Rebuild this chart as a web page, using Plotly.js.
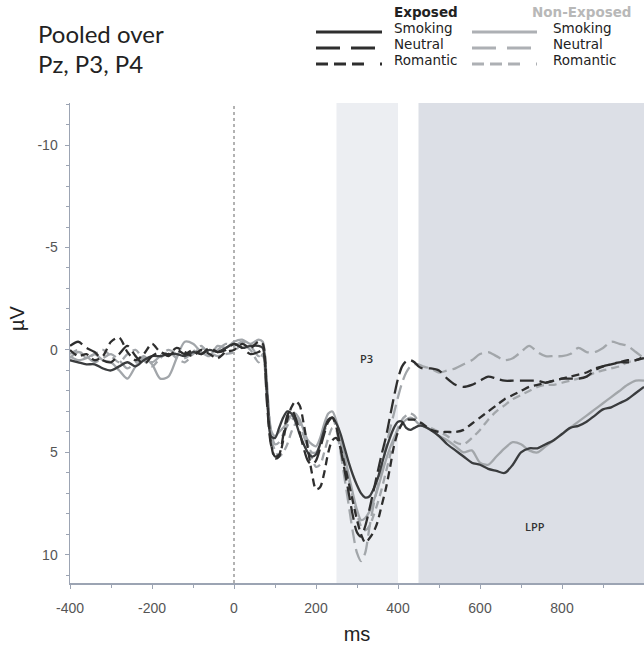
<!DOCTYPE html>
<html><head><meta charset="utf-8">
<script src="https://cdn.plot.ly/plotly-3.0.1.min.js"></script>
<style>html,body{margin:0;padding:0;background:#fff}#chart{width:644px;height:663px}</style>
</head><body><div id="chart"></div>
<script>
// time axis (ms)
var ms = [-400,-380,-360,-340,-320,-300,-280,-260,-240,-220,-200,-180,-160,-140,-120,-100,-80,-60,-40,-20,0,20,40,60,
70,80,90,100,110,120,130,140,150,160,170,180,190,200,210,220,230,240,250,260,270,280,290,300,310,320,330,340,350,360,370,380,390,400,410,420,430,440,450,
460,480,500,520,540,560,580,600,620,640,660,680,700,720,740,760,780,800,820,840,860,880,900,920,940,960,980,1000];

// Exposed group (µV)
var expSmoking = [0.5,0.6,0.7,0.7,0.9,1.0,0.8,0.6,0.8,0.5,0.3,0.3,0.2,0.2,0.3,0.1,0.2,0.0,0.1,-0.1,-0.3,-0.1,-0.2,-0.2,
-0.1,2.0,4.2,4.3,3.8,3.3,3.0,3.1,3.5,4.1,4.6,5.0,5.2,5.1,4.6,3.9,3.4,3.3,3.6,4.1,4.8,5.5,6.1,6.6,7.0,7.2,7.15,6.8,6.3,5.6,4.9,4.3,3.8,3.5,3.5,3.8,3.9,3.8,3.7,
3.7,3.9,4.2,4.6,4.9,5.2,5.5,5.6,5.8,5.9,6.0,5.6,5.0,4.8,4.8,4.6,4.4,4.1,3.8,3.7,3.5,3.2,2.9,2.8,2.6,2.4,2.1,1.8];
var expNeutral = [-0.2,-0.4,-0.1,0.1,0.5,0.6,0.2,-0.2,0.3,0.7,0.3,0.1,0.3,0.0,0.2,0.0,0.2,-0.1,0.1,0.0,-0.3,-0.1,0.2,0.1,
0.0,2.5,4.6,5.2,5.1,4.2,3.2,2.9,3.3,4.0,4.8,5.4,5.6,5.4,4.8,4.1,3.5,3.3,3.8,4.8,5.9,7.0,8.1,8.9,9.1,8.6,7.8,6.9,6.0,5.1,4.3,3.3,2.3,1.4,0.8,0.55,0.5,0.6,0.8,
0.9,0.9,1.0,1.4,1.7,1.8,1.7,1.5,1.3,1.4,1.5,1.5,1.5,1.5,1.5,1.6,1.5,1.4,1.4,1.4,1.3,1.0,0.8,0.7,0.6,0.6,0.5,0.4];
var expRomantic = [0.0,0.3,0.2,0.5,0.3,-0.4,-0.6,0.1,0.5,0.2,-0.3,0.1,0.2,-0.1,0.1,0.3,0.0,0.2,0.4,0.1,0.0,-0.3,-0.1,-0.4,
-0.3,2.0,4.5,5.3,5.2,4.4,3.4,2.8,2.5,2.7,3.6,4.8,6.0,6.8,6.7,6.0,5.0,4.4,4.3,4.8,5.6,6.5,7.4,8.3,9.0,9.4,9.2,8.9,8.4,7.6,6.8,5.8,4.7,4.0,3.6,3.4,3.4,3.4,3.5,
3.6,3.9,4.0,4.0,4.0,3.9,3.6,3.3,3.0,2.7,2.4,2.2,2.0,1.8,1.7,1.6,1.5,1.4,1.3,1.2,1.1,0.9,0.8,0.7,0.6,0.5,0.5,0.3];

// Non-Exposed group (µV)
var nonSmoking = [0.3,0.5,0.4,0.2,0.5,0.6,1.0,1.4,0.8,0.4,0.7,1.4,1.3,0.4,-0.4,-0.3,0.1,0.3,-0.2,-0.1,-0.4,-0.5,-0.3,-0.5,
-0.4,1.5,3.9,4.2,4.0,3.8,3.5,3.2,3.1,3.4,3.9,4.4,4.6,4.7,4.3,3.6,3.1,3.0,3.5,4.3,5.2,6.1,7.0,7.8,8.3,8.2,7.9,7.4,6.8,6.1,5.4,4.8,4.3,3.9,3.6,3.4,3.3,3.4,3.6,
3.7,3.9,4.2,4.4,4.7,5.0,4.9,5.5,5.6,5.2,4.8,4.5,4.6,4.9,5.0,4.7,4.4,4.1,3.8,3.5,3.2,2.9,2.6,2.3,2.0,1.7,1.5,1.5];
var nonNeutral = [0.4,0.1,0.3,0.6,0.4,0.2,0.5,0.9,0.6,0.3,0.6,0.3,0.0,0.2,0.4,0.1,-0.2,0.2,0.0,-0.3,-0.2,-0.4,-0.2,0.3,
0.2,1.8,3.9,4.6,4.5,4.1,3.7,3.4,3.3,3.6,4.2,4.7,5.0,5.0,4.6,4.0,3.5,3.3,3.9,5.0,6.3,7.6,8.9,9.9,10.3,9.9,8.7,7.6,6.7,5.8,4.8,3.9,3.1,2.3,1.6,1.1,0.8,0.7,0.7,
0.8,0.9,1.1,1.0,0.9,0.7,0.5,0.2,0.1,0.3,0.5,0.4,0.1,-0.2,0.1,0.3,0.3,0.3,0.2,-0.1,0.1,0.1,-0.1,-0.4,-0.3,-0.2,0.1,0.4];
var nonRomantic = [0.2,0.0,0.4,0.2,0.0,0.3,0.6,0.2,0.0,0.5,0.8,0.4,0.1,0.4,0.6,0.2,-0.1,0.1,0.3,0.2,0.1,-0.3,0.0,0.6,
0.2,2.2,4.3,4.9,5.2,5.0,4.6,4.0,3.6,3.5,3.9,4.6,5.3,5.7,5.6,5.0,4.3,3.8,3.9,4.5,5.4,6.3,7.2,8.0,8.6,8.8,8.6,8.1,7.5,6.8,6.0,5.2,4.4,3.8,3.4,3.2,3.1,3.2,3.5,
3.7,3.8,4.0,4.2,4.5,4.6,4.3,3.9,3.4,3.0,2.7,2.4,2.2,2.0,1.8,1.7,1.7,1.6,1.5,1.4,1.3,1.1,1.0,0.9,0.8,0.6,0.5,0.4];

var groups = ['Exposed', 'Non-Exposed'];
var conditions = ['Smoking', 'Neutral', 'Romantic'];
var windows = [{name: 'P3', from: 250, to: 400}, {name: 'LPP', from: 450, to: 1000}];
var xTickLabels = ['-400', '-200', '0', '200', '400', '600', '800'];
var yTickLabels = ['-10', '-5', '0', '5', '10'];

var darkCol = '#2e2e2e', grayCol = '#a2a6aa';
var dashes = {Smoking: 'solid', Neutral: '14px,6px', Romantic: '8px,5px'};

var seriesData = [
  {g: 1, c: 'Smoking', y: nonSmoking},
  {g: 1, c: 'Neutral', y: nonNeutral},
  {g: 1, c: 'Romantic', y: nonRomantic},
  {g: 0, c: 'Smoking', y: expSmoking},
  {g: 0, c: 'Neutral', y: expNeutral},
  {g: 0, c: 'Romantic', y: expRomantic}
];

var traces = seriesData.map(function (s) {
  return {
    x: ms, y: s.y, type: 'scatter', mode: 'lines',
    name: groups[s.g] + ' ' + s.c, showlegend: false,
    line: {color: s.g === 0 ? (s.c === 'Smoking' ? '#3a3c3e' : darkCol) : grayCol,
           width: 2.3, dash: dashes[s.c], shape: 'spline', smoothing: 0.8},
    hoverinfo: 'skip'
  };
});

// plot area in pixels
var L = 70, R = 644, T = 103, B = 583;
function xp(px) { return (px - L) / (R - L); }
function yp(py) { return (B - py) / (B - T); }

var shapes = [
  {type: 'rect', xref: 'x', yref: 'paper', x0: windows[0].from, x1: windows[0].to, y0: 0, y1: 1,
   fillcolor: '#eceef2', line: {width: 0}, layer: 'below'},
  {type: 'rect', xref: 'x', yref: 'paper', x0: windows[1].from, x1: windows[1].to, y0: 0, y1: 1,
   fillcolor: '#dcdfe6', line: {width: 0}, layer: 'below'},
  {type: 'line', xref: 'x', yref: 'paper', x0: 0, x1: 0, y0: 0, y1: 1,
   line: {color: '#666', width: 1, dash: 'dot'}, layer: 'below'}
];

var annotations = [
  {xref: 'x', yref: 'y', x: 324, y: 0.4, text: windows[0].name, showarrow: false,
   font: {family: 'Open Sans', size: 11, color: '#333', weight: 600}},
  {xref: 'x', yref: 'y', x: 734, y: 8.6, text: windows[1].name, showarrow: false,
   font: {family: 'Open Sans', size: 11, color: '#333', weight: 600}},
  {xref: 'paper', yref: 'paper', x: xp(36), y: yp(49), xanchor: 'left', yanchor: 'middle', align: 'left',
   text: '<span style="font-size:24px">Pooled over</span><br><span style="font-size:24px">Pz, P3, P4</span>',
   showarrow: false, font: {family: 'Lato', size: 23, color: '#222'}},
  {xref: 'paper', yref: 'paper', x: xp(17), y: yp(318), xanchor: 'center', yanchor: 'middle',
   text: 'µV', textangle: -90, showarrow: false, font: {family: 'Liberation Sans', size: 20, color: '#222'}}
];

// legend block (two columns)
var legFont = 'DejaVu Sans';
var colX = [{line0: 316, line1: 382, text: 393, head: 393, headAnchor: 'left', color: darkCol, headCol: '#222'},
            {line0: 472, line1: 537, text: 552, head: 633, headAnchor: 'right', color: '#adb0b4', headCol: '#b8b8b8'}];
var rowY = [28, 44, 60];
var legendDash = {Smoking: 'solid', Neutral: '24px,11px', Romantic: '12px,6px,12px,6px,12px,16px,2px'};
groups.forEach(function (g, gi) {
  var c = colX[gi];
  annotations.push({xref: 'paper', yref: 'paper', x: xp(c.head), y: yp(12), xanchor: c.headAnchor, yanchor: 'middle',
    borderpad: 0, text: '<b>' + g + '</b>', showarrow: false, font: {family: legFont, size: 13.5, color: c.headCol}});
  conditions.forEach(function (cond, ci) {
    annotations.push({xref: 'paper', yref: 'paper', x: xp(c.text), y: yp(rowY[ci]), xanchor: 'left', yanchor: 'middle',
      borderpad: 0, text: cond, showarrow: false, font: {family: legFont, size: 13.5, color: '#222'}});
    shapes.push({type: 'line', xref: 'paper', yref: 'paper', x0: xp(c.line0), x1: xp(c.line1),
      y0: yp(rowY[ci] + 4), y1: yp(rowY[ci] + 4), line: {color: c.color, width: 3, dash: legendDash[cond]}});
  });
});

var axisCol = '#9ca4b3';
var layout = {
  width: 644, height: 663,
  margin: {l: L, r: 644 - R, t: T, b: 663 - B, pad: 0},
  paper_bgcolor: '#fff', plot_bgcolor: '#fff',
  showlegend: false,
  xaxis: {range: [-400, 1000], tickvals: xTickLabels.map(Number), ticktext: xTickLabels,
    showgrid: false, zeroline: false, showline: true, linecolor: axisCol, linewidth: 1.5,
    ticks: 'outside', ticklen: 4, tickcolor: axisCol, ticklabelstandoff: 8,
    minor: {dtick: 100, tick0: 0, ticks: 'outside', ticklen: 3, tickcolor: axisCol},
    tickfont: {family: 'Liberation Sans', size: 14, color: '#555'},
    title: {text: 'ms', font: {family: 'Liberation Sans', size: 20, color: '#222'}, standoff: 11}},
  yaxis: {range: [11.37, -12.05], tickvals: yTickLabels.map(Number), ticktext: yTickLabels,
    showgrid: false, zeroline: false, showline: true, linecolor: axisCol, linewidth: 1.5,
    ticks: 'outside', ticklen: 4, tickcolor: axisCol, ticklabelstandoff: 4,
    minor: {dtick: 1, tick0: 0, ticks: 'outside', ticklen: 3, tickcolor: axisCol},
    tickfont: {family: 'Liberation Sans', size: 14, color: '#555'}},
  shapes: shapes,
  annotations: annotations
};

Plotly.newPlot('chart', traces, layout, {displayModeBar: false, staticPlot: true});
</script>
</body></html>
